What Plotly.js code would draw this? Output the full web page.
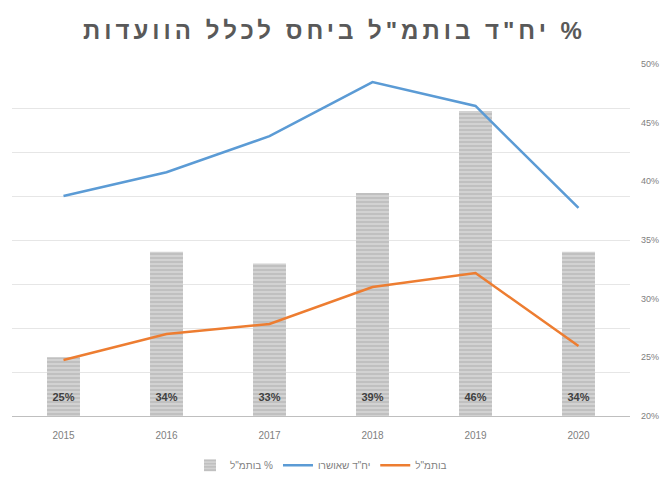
<!DOCTYPE html>
<html>
<head>
<meta charset="utf-8">
<script src="https://cdn.plot.ly/plotly-3.0.1.min.js"></script>
<style>html,body{margin:0;padding:0;background:#fff;}#chart{width:669px;height:479px;}
.gtitle{letter-spacing:4px;}</style>
</head>
<body>
<div id="chart"></div>
<script>
const years = ['2015', '2016', '2017', '2018', '2019', '2020'];
const pctValues = [25, 34, 33, 39, 46, 34];
const pctLabels = ['25%', '34%', '33%', '39%', '46%', '34%'];
const approvedUnits = [25000, 27700, 31800, 37950, 35230, 23640];
const bothmalUnits = [6360, 9320, 10450, 14660, 16250, 7950];
const labelLevel = [21.5, 21.5, 21.5, 21.5, 21.5, 21.5];

const font = '"Liberation Sans", "DejaVu Sans", Arial, sans-serif';
const RLM = '\u200F';

const traces = [
  {
    type: 'bar', x: years, y: pctValues, yaxis: 'y', name: RLM + '% בותמ"ל',
    width: 0.32,
    marker: {color: '#cccccc', line: {width: 0},
      pattern: {shape: '-', fgcolor: '#bcbcbc', bgcolor: '#d2d2d2', size: 4, solidity: 0.4}},
    hoverinfo: 'skip'
  },
  {
    type: 'scatter', mode: 'text', x: years, y: labelLevel, yaxis: 'y', text: pctLabels,
    textposition: 'middle center', showlegend: false,
    textfont: {family: font, size: 11, color: '#404040', weight: 'bold'}, hoverinfo: 'skip'
  },
  {
    type: 'scatter', mode: 'lines', x: years, y: approvedUnits, yaxis: 'y2', name: 'יח"ד שאושרו',
    line: {color: '#5b9bd5', width: 2.5}
  },
  {
    type: 'scatter', mode: 'lines', x: years, y: bothmalUnits, yaxis: 'y2', name: 'בותמ"ל',
    line: {color: '#ed7d31', width: 2.5}
  }
];

const layout = {
  width: 669, height: 479,
  margin: {l: 12, r: 39, t: 64, b: 63, autoexpand: false},
  paper_bgcolor: '#fff', plot_bgcolor: '#fff',
  title: {text: RLM + '% יח"ד בותמ"ל ביחס לכלל הוועדות', x: 0.5, xanchor: 'center', y: 0.937, yanchor: 'middle',
    font: {family: font, size: 24, color: '#595959', weight: 'bold'}},
  showlegend: true,
  legend: {orientation: 'h', x: 0.5, xanchor: 'center', y: -0.14, yanchor: 'middle',
    font: {family: font, size: 10, color: '#808080'}, traceorder: 'normal'},
  xaxis: {type: 'category', showgrid: false, zeroline: false, showline: true, linecolor: '#bfbfbf', linewidth: 1,
    ticks: '', ticklabelstandoff: 10, tickfont: {family: font, size: 10, color: '#808080'}},
  yaxis: {side: 'right', range: [20, 50], dtick: 5, ticksuffix: '%', showgrid: false, zeroline: false,
    showline: false, ticks: '', ticklabelstandoff: 10, tickfont: {family: font, size: 9, color: '#808080'}},
  yaxis2: {overlaying: 'y', side: 'left', range: [0, 40000], dtick: 5000, showgrid: true, gridcolor: '#e6e6e6',
    gridwidth: 1, zeroline: false, showticklabels: false, ticks: '', showline: false},
  bargap: 0.68
};

Plotly.newPlot('chart', traces, layout, {displayModeBar: false, staticPlot: true});
</script>
</body>
</html>
